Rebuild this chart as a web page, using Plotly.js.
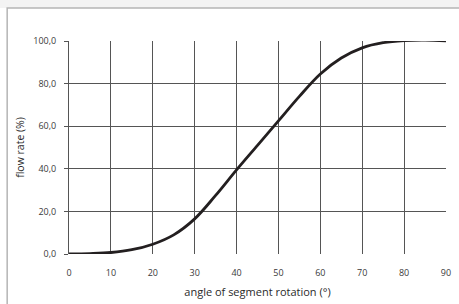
<!DOCTYPE html>
<html>
<head>
<meta charset="utf-8">
<script src="https://cdn.plot.ly/plotly-3.0.1.min.js"></script>
<style>html,body{margin:0;padding:0;background:#fff;}#chart{width:459px;height:304px;}</style>
</head>
<body>
<div id="chart"></div>
<script>
const angles = [0, 5, 10, 15, 20, 25, 30, 35, 40, 45, 50, 55, 60, 65, 70, 75, 80, 85, 90];
const flowRate = [0, 0.2, 0.7, 2.0, 4.6, 9.0, 16.5, 27.5, 39.5, 51, 62.5, 74, 84.5, 92, 96.8, 99.2, 100.2, 100.4, 100.1];
const xTicks = [0, 10, 20, 30, 40, 50, 60, 70, 80, 90];
const yTicks = [0, 20, 40, 60, 80, 100];
const yTickLabels = ["0,0", "20,0", "40,0", "60,0", "80,0", "100,0"];

const trace = {
  x: angles, y: flowRate, type: 'scatter', mode: 'lines',
  line: {color: '#231f20', width: 2.8, shape: 'spline', smoothing: 1},
  cliponaxis: false, hoverinfo: 'skip'
};
const font = {family: '"Open Sans", "Noto Sans", sans-serif', color: '#3a3a3a'};
const layout = {
  width: 459, height: 304,
  margin: {l: 69, r: 13, t: 41, b: 50},
  paper_bgcolor: '#ffffff', plot_bgcolor: '#ffffff',
  showlegend: false,
  font: font,
  xaxis: {
    range: [0, 90], tickvals: xTicks, ticktext: xTicks.map(String),
    showgrid: true, gridcolor: '#555', gridwidth: 1, zeroline: false,
    showline: false, ticks: 'outside', ticklen: 10, tickcolor: 'rgba(0,0,0,0)',
    tickfont: {size: 9, color: '#3a3a3a', family: font.family},
    title: {text: 'angle of segment rotation (°)', font: {size: 11, color: '#2a2a2a', family: font.family}, standoff: 10}
  },
  yaxis: {
    range: [0, 100], tickvals: yTicks, ticktext: yTickLabels,
    showgrid: true, gridcolor: '#555', gridwidth: 1, zeroline: false,
    showline: true, linecolor: '#555', linewidth: 1,
    ticks: 'outside', ticklen: 4, tickcolor: '#555', ticklabelstandoff: 6,
    tickfont: {size: 9, color: '#3a3a3a', family: font.family},
    title: {text: 'flow rate (%)', font: {size: 10.5, color: '#2a2a2a', family: font.family}, standoff: 6}
  },
  shapes: [
    {type: 'rect', xref: 'paper', yref: 'paper', x0: -0.5, x1: 1.5, y0: 1.155, y1: 1.5,
     fillcolor: '#f3f3f3', line: {width: 0}, layer: 'below'},
    {type: 'rect', xref: 'paper', yref: 'paper', x0: -0.164, x1: 1.5, y0: -1, y1: 1.155,
     fillcolor: 'rgba(0,0,0,0)', line: {color: '#b5b5b5', width: 1.5}, layer: 'below'}
  ]
};
Plotly.newPlot('chart', [trace], layout, {displayModeBar: false, staticPlot: true});
</script>
</body>
</html>
